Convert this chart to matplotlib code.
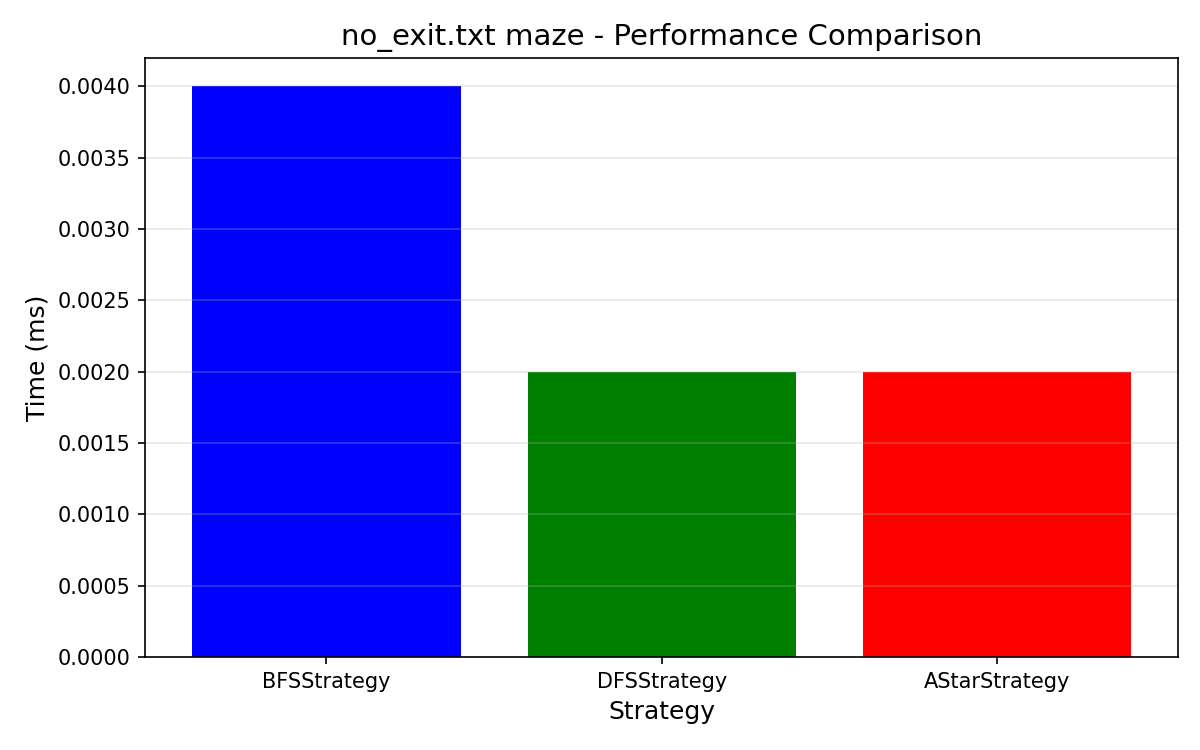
import matplotlib
matplotlib.use("Agg")
import matplotlib.pyplot as plt

# 전략별 실행 시간 (ms)
strategies = ["BFSStrategy", "DFSStrategy", "AStarStrategy"]
times_ms = [0.0040, 0.0020, 0.0020]
bar_colors = ["blue", "green", "red"]

fig, ax = plt.subplots(figsize=(8, 5), dpi=150)
ax.bar(strategies, times_ms, color=bar_colors)
ax.set_title("no_exit.txt maze - Performance Comparison", fontsize=14)
ax.set_xlabel("Strategy", fontsize=12)
ax.set_ylabel("Time (ms)", fontsize=12)
ax.grid(axis="y", alpha=0.3)
plt.subplots_adjust(left=0.121, right=0.982, top=0.923, bottom=0.124)
plt.savefig("out.png")
